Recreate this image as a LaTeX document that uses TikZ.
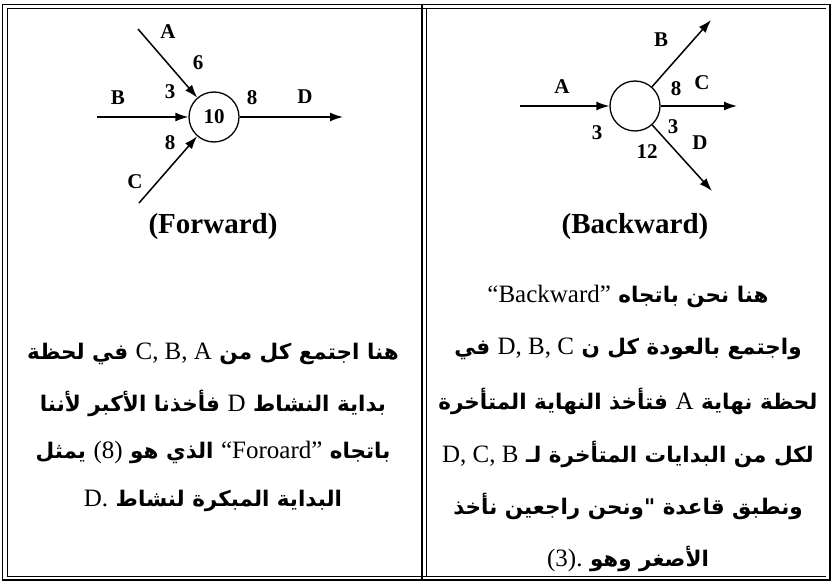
\documentclass[tikz,border=0pt]{standalone}
\usepackage{fontspec}
\usetikzlibrary{arrows.meta}
\setmainfont{Liberation Serif}
\newfontfamily\arabicfont[Script=Arabic]{DejaVu Sans}
\newfontfamily\latfont{Liberation Serif}
\TeXXeTstate=1
\newcommand{\lat}[1]{\beginL{\latfont\mdseries\fontsize{25}{25}\selectfont #1}\endL}
\tikzset{
  act/.style={line width=1.5pt, -{Latex[length=13pt,width=9pt]}},
  event/.style={circle, draw, line width=1.3pt, minimum size=50pt, inner sep=0pt,
                font=\bfseries\fontsize{21}{21}\selectfont},
  lbl/.style={font=\bfseries\fontsize{21}{21}\selectfont, inner sep=0pt},
  caption/.style={font=\bfseries\fontsize{29}{29}\selectfont, inner sep=0pt},
  artext/.style={font=\arabicfont\bfseries\fontsize{21.5}{21.5}\selectfont, inner sep=0pt},
  frame/.style={line width=1.8pt},
  thinframe/.style={line width=0.7pt}
}

\begin{document}
\begin{tikzpicture}[x=1pt, y=-1pt]
  \useasboundingbox (0,0) rectangle (834,585);

  % frame
  \draw[frame] (2.5,4.5) rectangle (830,580);
  \draw[thinframe] (7,8) -- (7,576) -- (826,576);
  \draw[thinframe] (7,8) -- (826,8);
  \draw[frame] (422,4.5) -- (422,580);
  \draw[thinframe] (426,8) -- (426,576);

  % forward
  \node[event] (fnode) at (214,117) {10};
  \coordinate (fA) at (138,29);
  \coordinate (fB) at (97,117);
  \coordinate (fC) at (139,203);
  \coordinate (fD) at (343,117);
  \draw[act] (fA) -- (fnode);
  \draw[act] (fB) -- (fnode);
  \draw[act] (fC) -- (fnode);
  \draw[act] (fnode) -- (fD);
  \node[lbl] (fAl) at (168,32) {A};
  \node[lbl] (fAv) at (198,63) {6};
  \node[lbl] (fBl) at (118,98) {B};
  \node[lbl] (fBv) at (170,92) {3};
  \node[lbl] (fCl) at (135,182) {C};
  \node[lbl] (fCv) at (170,143) {8};
  \node[lbl] (fDv) at (252,98) {8};
  \node[lbl] (fDl) at (305,97) {D};
  \node[caption] (fcap) at (213,227) {(Forward)};

  % backward
  \node[event] (bnode) at (635,106) {};
  \coordinate (bA) at (520,106);
  \coordinate (bB) at (711,20);
  \coordinate (bC) at (737,106);
  \coordinate (bD) at (712,191);
  \draw[act] (bA) -- (bnode);
  \draw[act] (bnode) -- (bB);
  \draw[act] (bnode) -- (bC);
  \draw[act] (bnode) -- (bD);
  \node[lbl] (bAl) at (562,87) {A};
  \node[lbl] (bAv) at (597,133) {3};
  \node[lbl] (bBl) at (661,40) {B};
  \node[lbl] (bCv) at (676,89) {8};
  \node[lbl] (bCl) at (702,83) {C};
  \node[lbl] (bDv) at (673,127) {3};
  \node[lbl] (bDl) at (700,143) {D};
  \node[lbl] (bDe) at (647,152) {12};
  \node[caption] (bcap) at (635,227) {(Backward)};

  % left text
  \node[artext] (fl1) at (213,354) {\beginR هنا اجتمع كل من \lat{C, B, A} في لحظة\endR};
  \node[artext] (fl2) at (213,403) {\beginR بداية النشاط \lat{D} فأخذنا الأكبر لأننا\endR};
  \node[artext] (fl3) at (213,452) {\beginR باتجاه \lat{“Foroard”} الذي هو \lat{(8)} يمثل\endR};
  \node[artext] (fl4) at (213,501) {\beginR البداية المبكرة لنشاط \lat{D.}\endR};

  % right text
  \node[artext] (bl1) at (628,296) {\beginR هنا نحن باتجاه \lat{“Backward”}\endR};
  \node[artext] (bl2) at (628,349) {\beginR واجتمع بالعودة كل ن \lat{D, B, C} في\endR};
  \node[artext] (bl3) at (628,401) {\beginR لحظة نهاية \lat{A} فتأخذ النهاية المتأخرة\endR};
  \node[artext] (bl4) at (628,454) {\beginR لكل من البدايات المتأخرة لـ \lat{D, C, B}\endR};
  \node[artext] (bl5) at (628,506) {\beginR ونطبق قاعدة "ونحن راجعين نأخذ\endR};
  \node[artext] (bl6) at (628,559) {\beginR الأصغر وهو \lat{(3).}\endR};
\end{tikzpicture}
\end{document}
